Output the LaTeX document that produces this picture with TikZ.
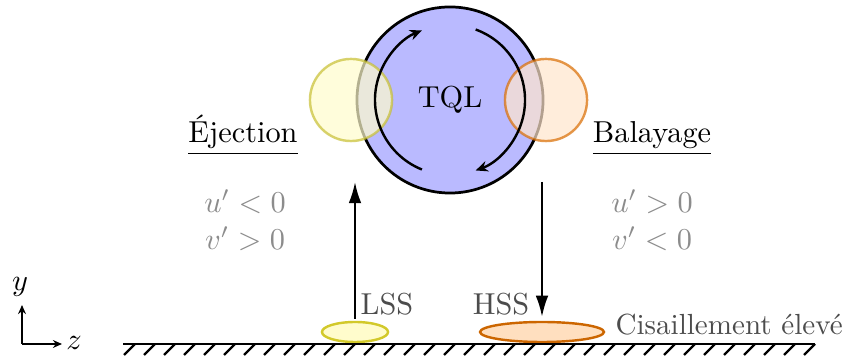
\documentclass[tikz,border=0pt]{standalone}
\usetikzlibrary{shapes.geometric,arrows.meta,calc}
\begin{document}
\begin{tikzpicture}[x=0.33pt,y=0.33pt,
  bigcirc/.style={circle,draw=black,line width=0.9pt,fill=blue!27,minimum size=61.4pt,inner sep=0pt},
  ejcirc/.style={circle,draw=yellow!75!black,line width=0.8pt,fill=yellow!20,opacity=0.7,minimum size=27.1pt,inner sep=0pt},
  swcirc/.style={circle,draw=orange!85!black,line width=0.8pt,fill=orange!20,opacity=0.7,minimum size=27.1pt,inner sep=0pt},
  lssell/.style={ellipse,draw=yellow!80!black,line width=0.8pt,fill=yellow!20,minimum width=21.8pt,minimum height=6.6pt,inner sep=0pt},
  hssell/.style={ellipse,draw=orange!80!black,line width=0.8pt,fill=orange!25,minimum width=40.9pt,minimum height=6.6pt,inner sep=0pt},
  rot/.style={line width=0.8pt,-{Stealth[length=4pt,width=3.5pt]}},
  flow/.style={line width=0.7pt,-{Latex[length=7pt,width=4.2pt]}},
  ax/.style={line width=0.7pt,-{Stealth[length=3pt,width=2.6pt]}},
  lab/.style={text=black!70,anchor=base},
  sign/.style={text=black!45,anchor=base},
  hatch/.style={line width=0.8pt}]
\useasboundingbox (0,0) rectangle (857,363);
% vortex
\node[bigcirc] (tql) at (450,263) {};
\node[ejcirc] (ej) at (351,263) {};
\node[swcirc] (sw) at (546,263) {};
\node[anchor=base] (tqltxt) at (450,255) {TQL};
\draw[rot] ($(tql.center)+(248:24.75pt)$) arc[start angle=248,end angle=112,radius=24.75pt];
\draw[rot] ($(tql.center)+(70:24.75pt)$) arc[start angle=70,end angle=-70,radius=24.75pt];
% labels
\node[anchor=base] (ejt) at (243,220) {\underline{Éjection}};
\node[anchor=base] (bat) at (652,220) {\underline{Balayage}};
\node[sign] (ejs1) at (245,150) {$u'<0$};
\node[sign] (ejs2) at (245,113) {$v'>0$};
\node[sign] (bas1) at (652,150) {$u'>0$};
\node[sign] (bas2) at (652,113) {$v'<0$};
% wall structures
\node[lssell] (lss) at (355,31) {};
\node[hssell] (hss) at (542,31) {};
\node[lab] (lsst) at (387,48) {LSS};
\node[lab] (hsst) at (501,48) {HSS};
\node[lab,anchor=base west,inner sep=0pt,scale=0.96] (cis) at (615,28) {Cisaillement élevé};
\coordinate (upend) at (355,181);
\coordinate (dnstart) at (542,181);
\draw[flow] ([yshift=0.6pt]lss.north) -- (upend);
\draw[flow] (dnstart) -- ([yshift=1.3pt]hss.north);
% wall
\coordinate (wl) at (123,19);
\coordinate (wr) at (815,19);
\draw[line width=0.8pt] (wl) -- (wr);
\foreach \x in {135,155,...,815} \draw[hatch] (\x,19) -- ++(-11,-11);
% axes
\coordinate (o) at (22,19);
\coordinate (yend) at (22,58);
\coordinate (zend) at (62,19);
\draw[ax] (o) -- (yend);
\draw[ax] (o) -- (zend);
\node (ylab) at (20,76) {$y$};
\node (zlab) at (74,20) {$z$};
\end{tikzpicture}
\end{document}
